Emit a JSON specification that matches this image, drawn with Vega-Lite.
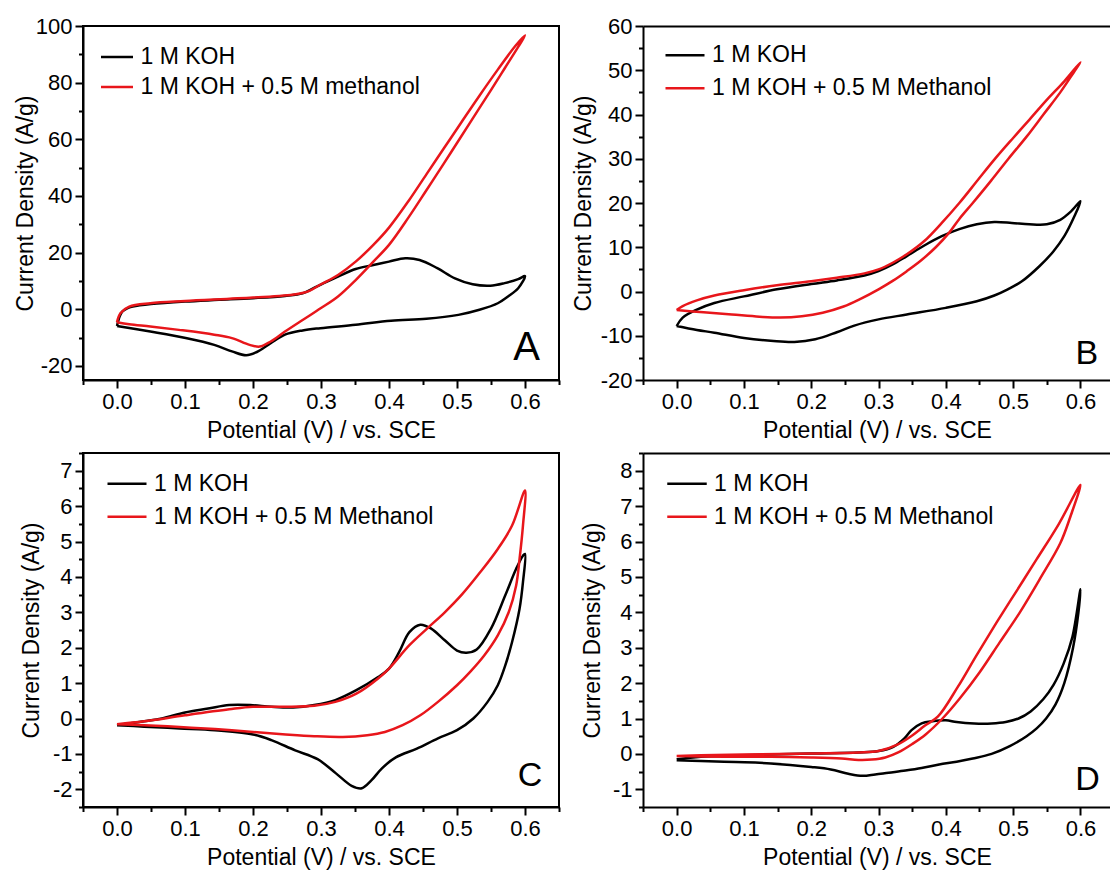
{
  "$schema": "https://vega.github.io/schema/vega-lite/v6.json",
  "background": "white",
  "padding": {"left": 13, "top": 14, "right": 0, "bottom": 0},
  "config": {
    "font": "Liberation Sans",
    "view": {"stroke": "black", "strokeWidth": 2},
    "axis": {
      "grid": false,
      "domainColor": "black",
      "domainWidth": 2,
      "tickColor": "black",
      "tickWidth": 2,
      "labelColor": "black",
      "labelFont": "Liberation Sans",
      "labelFontSize": 22,
      "labelPadding": 3,
      "titleColor": "black",
      "titleFont": "Liberation Sans",
      "titleFontSize": 23,
      "titleFontWeight": "normal",
      "titlePadding": 7
    },
    "legend": {
      "orient": "none",
      "title": null,
      "symbolType": "stroke",
      "symbolStrokeWidth": 2.5,
      "labelFont": "Liberation Sans",
      "labelFontSize": 23,
      "labelColor": "black",
      "labelOffset": 6,
      "labelLimit": 0,
      "padding": 0
    },
    "line": {"strokeWidth": 2.5, "interpolate": "catmull-rom"},
    "text": {"font": "Liberation Sans", "color": "black", "align": "right", "baseline": "alphabetic"}
  },
  "datasets": {
    "A": [
      {"s":"k","o":1,"x":0,"y":-5.9},{"s":"k","o":2,"x":0.004,"y":-2.5},{"s":"k","o":3,"x":0.008,"y":-0.8},{"s":"k","o":4,"x":0.015,"y":0.3},{"s":"k","o":5,"x":0.023,"y":0.9},{"s":"k","o":6,"x":0.05,"y":1.8},{"s":"k","o":7,"x":0.1,"y":2.7},{"s":"k","o":8,"x":0.15,"y":3.3},{"s":"k","o":9,"x":0.2,"y":3.9},{"s":"k","o":10,"x":0.247,"y":4.7},{"s":"k","o":11,"x":0.273,"y":5.6},{"s":"k","o":12,"x":0.289,"y":7.4},{"s":"k","o":13,"x":0.304,"y":9.2},{"s":"k","o":14,"x":0.325,"y":11.5},{"s":"k","o":15,"x":0.351,"y":14.2},{"s":"k","o":16,"x":0.377,"y":15.6},{"s":"k","o":17,"x":0.4,"y":16.8},{"s":"k","o":18,"x":0.424,"y":18},{"s":"k","o":19,"x":0.445,"y":17.4},{"s":"k","o":20,"x":0.471,"y":14.5},{"s":"k","o":21,"x":0.497,"y":10.9},{"s":"k","o":22,"x":0.523,"y":8.8},{"s":"k","o":23,"x":0.549,"y":8.3},{"s":"k","o":24,"x":0.57,"y":9.2},{"s":"k","o":25,"x":0.59,"y":10.6},{"s":"k","o":26,"x":0.6,"y":11.7},
      {"s":"k","o":27,"x":0.59,"y":7.4},{"s":"k","o":28,"x":0.575,"y":4.5},{"s":"k","o":29,"x":0.56,"y":2.1},{"s":"k","o":30,"x":0.533,"y":-0.2},{"s":"k","o":31,"x":0.502,"y":-2},{"s":"k","o":32,"x":0.455,"y":-3.4},{"s":"k","o":33,"x":0.403,"y":-4.1},{"s":"k","o":34,"x":0.351,"y":-5.5},{"s":"k","o":35,"x":0.299,"y":-6.7},{"s":"k","o":36,"x":0.273,"y":-7.5},{"s":"k","o":37,"x":0.247,"y":-9},{"s":"k","o":38,"x":0.226,"y":-12},{"s":"k","o":39,"x":0.205,"y":-15.2},{"s":"k","o":40,"x":0.19,"y":-16.3},{"s":"k","o":41,"x":0.169,"y":-14.9},{"s":"k","o":42,"x":0.143,"y":-12.6},{"s":"k","o":43,"x":0.101,"y":-10.2},{"s":"k","o":44,"x":0.049,"y":-7.9},{"s":"k","o":45,"x":0,"y":-5.9},
      {"s":"m","o":1,"x":0,"y":-4.6},{"s":"m","o":2,"x":0.005,"y":-1.4},{"s":"m","o":3,"x":0.018,"y":0.9},{"s":"m","o":4,"x":0.049,"y":2.1},{"s":"m","o":5,"x":0.1,"y":2.9},{"s":"m","o":6,"x":0.2,"y":4.1},{"s":"m","o":7,"x":0.263,"y":5.3},{"s":"m","o":8,"x":0.283,"y":6.5},{"s":"m","o":9,"x":0.3,"y":8.8},{"s":"m","o":10,"x":0.325,"y":12.1},{"s":"m","o":11,"x":0.351,"y":16.8},{"s":"m","o":12,"x":0.377,"y":22.7},{"s":"m","o":13,"x":0.4,"y":28.8},{"s":"m","o":14,"x":0.429,"y":38.3},{"s":"m","o":15,"x":0.455,"y":47.6},{"s":"m","o":16,"x":0.481,"y":56.9},{"s":"m","o":17,"x":0.507,"y":66.2},{"s":"m","o":18,"x":0.533,"y":75.4},{"s":"m","o":19,"x":0.56,"y":84.6},{"s":"m","o":20,"x":0.586,"y":93},{"s":"m","o":21,"x":0.6,"y":96.7},
      {"s":"m","o":22,"x":0.59,"y":92.6},{"s":"m","o":23,"x":0.57,"y":85},{"s":"m","o":24,"x":0.549,"y":77},{"s":"m","o":25,"x":0.523,"y":67.3},{"s":"m","o":26,"x":0.5,"y":58.7},{"s":"m","o":27,"x":0.481,"y":51.6},{"s":"m","o":28,"x":0.455,"y":42},{"s":"m","o":29,"x":0.429,"y":32.5},{"s":"m","o":30,"x":0.4,"y":22.7},{"s":"m","o":31,"x":0.377,"y":16.8},{"s":"m","o":32,"x":0.351,"y":10.3},{"s":"m","o":33,"x":0.325,"y":4.5},{"s":"m","o":34,"x":0.3,"y":0.4},{"s":"m","o":35,"x":0.273,"y":-3.8},{"s":"m","o":36,"x":0.247,"y":-7.9},{"s":"m","o":37,"x":0.226,"y":-11.4},{"s":"m","o":38,"x":0.21,"y":-13.2},{"s":"m","o":39,"x":0.195,"y":-12.6},{"s":"m","o":40,"x":0.169,"y":-10.2},{"s":"m","o":41,"x":0.143,"y":-9},{"s":"m","o":42,"x":0.091,"y":-7.3},{"s":"m","o":43,"x":0.049,"y":-6.1},{"s":"m","o":44,"x":0.018,"y":-5.3},{"s":"m","o":45,"x":0,"y":-4.6}
    ],
    "B": [
      {"s":"k","o":1,"x":0,"y":-7.8},{"s":"k","o":2,"x":0.009,"y":-5.9},{"s":"k","o":3,"x":0.03,"y":-4.1},{"s":"k","o":4,"x":0.056,"y":-2.6},{"s":"k","o":5,"x":0.1,"y":-1.1},{"s":"k","o":6,"x":0.149,"y":0.5},{"s":"k","o":7,"x":0.2,"y":1.7},{"s":"k","o":8,"x":0.238,"y":2.5},{"s":"k","o":9,"x":0.279,"y":3.6},{"s":"k","o":10,"x":0.3,"y":4.6},{"s":"k","o":11,"x":0.321,"y":6.1},{"s":"k","o":12,"x":0.342,"y":8},{"s":"k","o":13,"x":0.368,"y":10.4},{"s":"k","o":14,"x":0.394,"y":12.5},{"s":"k","o":15,"x":0.42,"y":14.1},{"s":"k","o":16,"x":0.446,"y":15.2},{"s":"k","o":17,"x":0.472,"y":15.7},{"s":"k","o":18,"x":0.498,"y":15.5},{"s":"k","o":19,"x":0.524,"y":15.2},{"s":"k","o":20,"x":0.55,"y":15.2},{"s":"k","o":21,"x":0.57,"y":16.2},{"s":"k","o":22,"x":0.586,"y":18.1},{"s":"k","o":23,"x":0.6,"y":20.4},
      {"s":"k","o":24,"x":0.591,"y":17},{"s":"k","o":25,"x":0.576,"y":12.5},{"s":"k","o":26,"x":0.56,"y":9.1},{"s":"k","o":27,"x":0.539,"y":5.7},{"s":"k","o":28,"x":0.513,"y":2.3},{"s":"k","o":29,"x":0.492,"y":0.5},{"s":"k","o":30,"x":0.472,"y":-0.9},{"s":"k","o":31,"x":0.446,"y":-2.2},{"s":"k","o":32,"x":0.4,"y":-3.7},{"s":"k","o":33,"x":0.342,"y":-5.2},{"s":"k","o":34,"x":0.3,"y":-6.3},{"s":"k","o":35,"x":0.264,"y":-7.7},{"s":"k","o":36,"x":0.238,"y":-9.2},{"s":"k","o":37,"x":0.206,"y":-10.8},{"s":"k","o":38,"x":0.175,"y":-11.4},{"s":"k","o":39,"x":0.144,"y":-11.2},{"s":"k","o":40,"x":0.1,"y":-10.5},{"s":"k","o":41,"x":0.056,"y":-9.3},{"s":"k","o":42,"x":0.03,"y":-8.7},{"s":"k","o":43,"x":0,"y":-7.8},
      {"s":"m","o":1,"x":0,"y":-4.2},{"s":"m","o":2,"x":0.009,"y":-3.3},{"s":"m","o":3,"x":0.03,"y":-2},{"s":"m","o":4,"x":0.056,"y":-0.9},{"s":"m","o":5,"x":0.1,"y":0.3},{"s":"m","o":6,"x":0.149,"y":1.4},{"s":"m","o":7,"x":0.2,"y":2.3},{"s":"m","o":8,"x":0.238,"y":3.1},{"s":"m","o":9,"x":0.279,"y":4.1},{"s":"m","o":10,"x":0.3,"y":5},{"s":"m","o":11,"x":0.321,"y":6.5},{"s":"m","o":12,"x":0.342,"y":8.4},{"s":"m","o":13,"x":0.368,"y":11.4},{"s":"m","o":14,"x":0.394,"y":15.5},{"s":"m","o":15,"x":0.42,"y":20},{"s":"m","o":16,"x":0.446,"y":24.9},{"s":"m","o":17,"x":0.472,"y":29.8},{"s":"m","o":18,"x":0.5,"y":34.7},{"s":"m","o":19,"x":0.524,"y":38.8},{"s":"m","o":20,"x":0.55,"y":43.3},{"s":"m","o":21,"x":0.576,"y":47.5},{"s":"m","o":22,"x":0.6,"y":51.8},
      {"s":"m","o":23,"x":0.59,"y":49.5},{"s":"m","o":24,"x":0.57,"y":45},{"s":"m","o":25,"x":0.545,"y":40},{"s":"m","o":26,"x":0.52,"y":35},{"s":"m","o":27,"x":0.493,"y":30},{"s":"m","o":28,"x":0.467,"y":25},{"s":"m","o":29,"x":0.44,"y":20},{"s":"m","o":30,"x":0.42,"y":16.4},{"s":"m","o":31,"x":0.405,"y":13.3},{"s":"m","o":32,"x":0.385,"y":10},{"s":"m","o":33,"x":0.363,"y":7},{"s":"m","o":34,"x":0.342,"y":4.6},{"s":"m","o":35,"x":0.321,"y":2.4},{"s":"m","o":36,"x":0.3,"y":0.5},{"s":"m","o":37,"x":0.274,"y":-1.6},{"s":"m","o":38,"x":0.248,"y":-3.4},{"s":"m","o":39,"x":0.217,"y":-4.8},{"s":"m","o":40,"x":0.186,"y":-5.6},{"s":"m","o":41,"x":0.154,"y":-5.9},{"s":"m","o":42,"x":0.123,"y":-5.7},{"s":"m","o":43,"x":0.082,"y":-5.2},{"s":"m","o":44,"x":0.04,"y":-4.7},{"s":"m","o":45,"x":0,"y":-4.2}
    ],
    "C": [
      {"s":"k","o":1,"x":0,"y":-0.19},{"s":"k","o":2,"x":0.04,"y":-0.08},{"s":"k","o":3,"x":0.066,"y":0},{"s":"k","o":4,"x":0.1,"y":0.17},{"s":"k","o":5,"x":0.134,"y":0.28},{"s":"k","o":6,"x":0.165,"y":0.38},{"s":"k","o":7,"x":0.196,"y":0.38},{"s":"k","o":8,"x":0.227,"y":0.33},{"s":"k","o":9,"x":0.259,"y":0.31},{"s":"k","o":10,"x":0.29,"y":0.38},{"s":"k","o":11,"x":0.321,"y":0.52},{"s":"k","o":12,"x":0.352,"y":0.8},{"s":"k","o":13,"x":0.384,"y":1.17},{"s":"k","o":14,"x":0.4,"y":1.41},{"s":"k","o":15,"x":0.415,"y":1.88},{"s":"k","o":16,"x":0.43,"y":2.44},{"s":"k","o":17,"x":0.446,"y":2.65},{"s":"k","o":18,"x":0.462,"y":2.54},{"s":"k","o":19,"x":0.482,"y":2.21},{"s":"k","o":20,"x":0.5,"y":1.92},{"s":"k","o":21,"x":0.514,"y":1.86},{"s":"k","o":22,"x":0.529,"y":1.95},{"s":"k","o":23,"x":0.55,"y":2.54},{"s":"k","o":24,"x":0.571,"y":3.48},{"s":"k","o":25,"x":0.587,"y":4.23},{"s":"k","o":26,"x":0.597,"y":4.6},{"s":"k","o":27,"x":0.6,"y":4.65},
      {"s":"k","o":28,"x":0.597,"y":3.85},{"s":"k","o":29,"x":0.592,"y":3.1},{"s":"k","o":30,"x":0.581,"y":2.16},{"s":"k","o":31,"x":0.571,"y":1.5},{"s":"k","o":32,"x":0.56,"y":0.94},{"s":"k","o":33,"x":0.545,"y":0.47},{"s":"k","o":34,"x":0.524,"y":0},{"s":"k","o":35,"x":0.5,"y":-0.33},{"s":"k","o":36,"x":0.472,"y":-0.56},{"s":"k","o":37,"x":0.441,"y":-0.85},{"s":"k","o":38,"x":0.41,"y":-1.1},{"s":"k","o":39,"x":0.39,"y":-1.4},{"s":"k","o":40,"x":0.374,"y":-1.75},{"s":"k","o":41,"x":0.36,"y":-1.97},{"s":"k","o":42,"x":0.345,"y":-1.9},{"s":"k","o":43,"x":0.322,"y":-1.55},{"s":"k","o":44,"x":0.295,"y":-1.15},{"s":"k","o":45,"x":0.262,"y":-0.9},{"s":"k","o":46,"x":0.227,"y":-0.61},{"s":"k","o":47,"x":0.2,"y":-0.45},{"s":"k","o":48,"x":0.144,"y":-0.33},{"s":"k","o":49,"x":0.092,"y":-0.28},{"s":"k","o":50,"x":0.04,"y":-0.23},{"s":"k","o":51,"x":0,"y":-0.19},
      {"s":"m","o":1,"x":0,"y":-0.16},{"s":"m","o":2,"x":0.04,"y":-0.08},{"s":"m","o":3,"x":0.1,"y":0.09},{"s":"m","o":4,"x":0.165,"y":0.26},{"s":"m","o":5,"x":0.2,"y":0.33},{"s":"m","o":6,"x":0.248,"y":0.33},{"s":"m","o":7,"x":0.29,"y":0.36},{"s":"m","o":8,"x":0.321,"y":0.47},{"s":"m","o":9,"x":0.352,"y":0.7},{"s":"m","o":10,"x":0.384,"y":1.13},{"s":"m","o":11,"x":0.4,"y":1.41},{"s":"m","o":12,"x":0.43,"y":2.07},{"s":"m","o":13,"x":0.456,"y":2.54},{"s":"m","o":14,"x":0.482,"y":3.0},{"s":"m","o":15,"x":0.508,"y":3.52},{"s":"m","o":16,"x":0.534,"y":4.13},{"s":"m","o":17,"x":0.56,"y":4.79},{"s":"m","o":18,"x":0.581,"y":5.45},{"s":"m","o":19,"x":0.6,"y":6.44},
      {"s":"m","o":20,"x":0.597,"y":5.45},{"s":"m","o":21,"x":0.592,"y":4.51},{"s":"m","o":22,"x":0.587,"y":3.76},{"s":"m","o":23,"x":0.576,"y":3.0},{"s":"m","o":24,"x":0.56,"y":2.35},{"s":"m","o":25,"x":0.54,"y":1.78},{"s":"m","o":26,"x":0.519,"y":1.31},{"s":"m","o":27,"x":0.5,"y":0.94},{"s":"m","o":28,"x":0.472,"y":0.47},{"s":"m","o":29,"x":0.446,"y":0.09},{"s":"m","o":30,"x":0.42,"y":-0.19},{"s":"m","o":31,"x":0.394,"y":-0.38},{"s":"m","o":32,"x":0.368,"y":-0.47},{"s":"m","o":33,"x":0.332,"y":-0.52},{"s":"m","o":34,"x":0.29,"y":-0.5},{"s":"m","o":35,"x":0.248,"y":-0.45},{"s":"m","o":36,"x":0.2,"y":-0.38},{"s":"m","o":37,"x":0.144,"y":-0.3},{"s":"m","o":38,"x":0.092,"y":-0.24},{"s":"m","o":39,"x":0.04,"y":-0.19},{"s":"m","o":40,"x":0,"y":-0.16}
    ],
    "D": [
      {"s":"k","o":1,"x":0,"y":-0.15},{"s":"k","o":2,"x":0.036,"y":-0.08},{"s":"k","o":3,"x":0.1,"y":-0.04},{"s":"k","o":4,"x":0.2,"y":0.01},{"s":"k","o":5,"x":0.27,"y":0.04},{"s":"k","o":6,"x":0.3,"y":0.08},{"s":"k","o":7,"x":0.322,"y":0.2},{"s":"k","o":8,"x":0.338,"y":0.43},{"s":"k","o":9,"x":0.349,"y":0.67},{"s":"k","o":10,"x":0.364,"y":0.86},{"s":"k","o":11,"x":0.38,"y":0.92},{"s":"k","o":12,"x":0.4,"y":0.95},{"s":"k","o":13,"x":0.416,"y":0.9},{"s":"k","o":14,"x":0.442,"y":0.86},{"s":"k","o":15,"x":0.468,"y":0.86},{"s":"k","o":16,"x":0.489,"y":0.9},{"s":"k","o":17,"x":0.508,"y":1.0},{"s":"k","o":18,"x":0.526,"y":1.2},{"s":"k","o":19,"x":0.545,"y":1.55},{"s":"k","o":20,"x":0.56,"y":1.95},{"s":"k","o":21,"x":0.575,"y":2.55},{"s":"k","o":22,"x":0.588,"y":3.3},{"s":"k","o":23,"x":0.6,"y":4.65},
      {"s":"k","o":24,"x":0.597,"y":4.0},{"s":"k","o":25,"x":0.589,"y":3.0},{"s":"k","o":26,"x":0.576,"y":2.0},{"s":"k","o":27,"x":0.563,"y":1.4},{"s":"k","o":28,"x":0.549,"y":1.0},{"s":"k","o":29,"x":0.535,"y":0.72},{"s":"k","o":30,"x":0.52,"y":0.5},{"s":"k","o":31,"x":0.495,"y":0.22},{"s":"k","o":32,"x":0.468,"y":0},{"s":"k","o":33,"x":0.44,"y":-0.13},{"s":"k","o":34,"x":0.416,"y":-0.22},{"s":"k","o":35,"x":0.39,"y":-0.3},{"s":"k","o":36,"x":0.364,"y":-0.4},{"s":"k","o":37,"x":0.34,"y":-0.47},{"s":"k","o":38,"x":0.315,"y":-0.53},{"s":"k","o":39,"x":0.295,"y":-0.58},{"s":"k","o":40,"x":0.276,"y":-0.62},{"s":"k","o":41,"x":0.255,"y":-0.56},{"s":"k","o":42,"x":0.229,"y":-0.44},{"s":"k","o":43,"x":0.2,"y":-0.37},{"s":"k","o":44,"x":0.14,"y":-0.27},{"s":"k","o":45,"x":0.088,"y":-0.23},{"s":"k","o":46,"x":0.036,"y":-0.2},{"s":"k","o":47,"x":0,"y":-0.18},
      {"s":"m","o":1,"x":0,"y":-0.06},{"s":"m","o":2,"x":0.036,"y":-0.04},{"s":"m","o":3,"x":0.1,"y":-0.02},{"s":"m","o":4,"x":0.2,"y":0.01},{"s":"m","o":5,"x":0.27,"y":0.04},{"s":"m","o":6,"x":0.3,"y":0.08},{"s":"m","o":7,"x":0.328,"y":0.26},{"s":"m","o":8,"x":0.35,"y":0.52},{"s":"m","o":9,"x":0.369,"y":0.8},{"s":"m","o":10,"x":0.388,"y":1.05},{"s":"m","o":11,"x":0.418,"y":1.9},{"s":"m","o":12,"x":0.446,"y":2.8},{"s":"m","o":13,"x":0.475,"y":3.7},{"s":"m","o":14,"x":0.505,"y":4.6},{"s":"m","o":15,"x":0.535,"y":5.5},{"s":"m","o":16,"x":0.568,"y":6.5},{"s":"m","o":17,"x":0.6,"y":7.6},
      {"s":"m","o":18,"x":0.585,"y":6.7},{"s":"m","o":19,"x":0.57,"y":5.95},{"s":"m","o":20,"x":0.54,"y":4.95},{"s":"m","o":21,"x":0.51,"y":4.0},{"s":"m","o":22,"x":0.48,"y":3.15},{"s":"m","o":23,"x":0.45,"y":2.3},{"s":"m","o":24,"x":0.42,"y":1.55},{"s":"m","o":25,"x":0.395,"y":1.0},{"s":"m","o":26,"x":0.37,"y":0.55},{"s":"m","o":27,"x":0.35,"y":0.28},{"s":"m","o":28,"x":0.33,"y":0.05},{"s":"m","o":29,"x":0.31,"y":-0.1},{"s":"m","o":30,"x":0.29,"y":-0.16},{"s":"m","o":31,"x":0.27,"y":-0.17},{"s":"m","o":32,"x":0.245,"y":-0.13},{"s":"m","o":33,"x":0.2,"y":-0.1},{"s":"m","o":34,"x":0.14,"y":-0.08},{"s":"m","o":35,"x":0.088,"y":-0.08},{"s":"m","o":36,"x":0.036,"y":-0.07},{"s":"m","o":37,"x":0,"y":-0.06}
    ]
  },
  "columns": 2,
  "spacing": {"row": 73, "column": 84},
  "bounds": "flush",
  "resolve": {"scale": {"x": "independent", "y": "independent", "color": "independent"}, "legend": {"color": "independent"}},
  "concat": [
    {
      "width": 476, "height": 354,
      "resolve": {"axis": {"x": "independent", "y": "independent"}},
      "layer": [
        {
          "data": {"name": "A"},
          "mark": {"type": "line"},
          "encoding": {
            "x": {"field": "x", "type": "quantitative", "title": "Potential (V) / vs. SCE",
              "scale": {"domain": [-0.05, 0.65], "nice": false, "zero": false},
              "axis": {"values": [-0.05,0,0.05,0.1,0.15,0.2,0.25,0.3,0.35,0.4,0.45,0.5,0.55,0.6,0.65],
                "labelExpr": "abs(datum.value*10 - round(datum.value*10)) < 0.001 ? format(datum.value, '.1f') : ''",
                "tickSize": {"condition": {"test": "abs(datum.value*10 - round(datum.value*10)) < 0.001", "value": 8}, "value": 4.5}}},
            "y": {"field": "y", "type": "quantitative", "title": "Current Density (A/g)",
              "scale": {"domain": [-25, 100], "nice": false, "zero": false},
              "axis": {"values": [-20,-10,0,10,20,30,40,50,60,70,80,90,100],
                "labelExpr": "datum.value % 20 == 0 ? '' + datum.value : ''",
                "tickSize": {"condition": {"test": "datum.value % 20 == 0", "value": 8}, "value": 4.5},
                "titlePadding": -2}},
            "order": {"field": "o", "type": "quantitative"},
            "color": {"field": "s", "type": "nominal",
              "scale": {"domain": ["k", "m"], "range": ["#000000", "#e8161b"]},
              "legend": {"legendX": 16.5, "legendY": 13.5, "symbolSize": 1024, "rowPadding": -2,
                "labelExpr": "datum.label == 'k' ? '1 M KOH' : '1 M KOH + 0.5 M methanol'"}}
          }
        },
        {
          "data": {"values": [{"t": "A", "x": 0.622, "y": -17.8}]},
          "mark": {"type": "text", "fontSize": 40},
          "encoding": {
            "x": {"field": "x", "type": "quantitative", "axis": null},
            "y": {"field": "y", "type": "quantitative", "axis": null},
            "text": {"field": "t"}
          }
        }
      ]
    },
    {
      "width": 468, "height": 354,
      "view": {"stroke": null},
      "resolve": {"axis": {"x": "independent", "y": "independent"}},
      "layer": [
        {
          "data": {"name": "B"},
          "mark": {"type": "line"},
          "encoding": {
            "x": {"field": "x", "type": "quantitative", "title": "Potential (V) / vs. SCE",
              "scale": {"domain": [-0.05, 0.6454], "nice": false, "zero": false},
              "axis": {"values": [-0.05,0,0.05,0.1,0.15,0.2,0.25,0.3,0.35,0.4,0.45,0.5,0.55,0.6],
                "labelExpr": "abs(datum.value*10 - round(datum.value*10)) < 0.001 ? format(datum.value, '.1f') : ''",
                "tickSize": {"condition": {"test": "abs(datum.value*10 - round(datum.value*10)) < 0.001", "value": 8}, "value": 4.5}}},
            "y": {"field": "y", "type": "quantitative", "title": "Current Density (A/g)",
              "scale": {"domain": [-20, 60], "nice": false, "zero": false},
              "axis": {"values": [-20,-15,-10,-5,0,5,10,15,20,25,30,35,40,45,50,55,60],
                "labelExpr": "datum.value % 10 == 0 ? '' + datum.value : ''",
                "tickSize": {"condition": {"test": "datum.value % 10 == 0", "value": 8}, "value": 4.5},
                "titlePadding": 5}},
            "order": {"field": "o", "type": "quantitative"},
            "color": {"field": "s", "type": "nominal",
              "scale": {"domain": ["k", "m"], "range": ["#000000", "#e8161b"]},
              "legend": {"legendX": 21, "legendY": 8.3, "symbolSize": 1521, "rowPadding": -11,
                "labelExpr": "datum.label == 'k' ? '1 M KOH' : '1 M KOH + 0.5 M Methanol'"}}
          }
        },
        {
          "data": {"values": [{"t": "B", "x": 0.6263, "y": -16.4}]},
          "mark": {"type": "text", "fontSize": 34},
          "encoding": {
            "x": {"field": "x", "type": "quantitative",
              "axis": {"orient": "top", "labels": false, "ticks": false, "title": null}},
            "y": {"field": "y", "type": "quantitative", "axis": null},
            "text": {"field": "t"}
          }
        }
      ]
    },
    {
      "width": 476, "height": 354,
      "resolve": {"axis": {"x": "independent", "y": "independent"}},
      "layer": [
        {
          "data": {"name": "C"},
          "mark": {"type": "line"},
          "encoding": {
            "x": {"field": "x", "type": "quantitative", "title": "Potential (V) / vs. SCE",
              "scale": {"domain": [-0.05, 0.65], "nice": false, "zero": false},
              "axis": {"values": [-0.05,0,0.05,0.1,0.15,0.2,0.25,0.3,0.35,0.4,0.45,0.5,0.55,0.6,0.65],
                "labelExpr": "abs(datum.value*10 - round(datum.value*10)) < 0.001 ? format(datum.value, '.1f') : ''",
                "tickSize": {"condition": {"test": "abs(datum.value*10 - round(datum.value*10)) < 0.001", "value": 8}, "value": 4.5}}},
            "y": {"field": "y", "type": "quantitative", "title": "Current Density (A/g)",
              "scale": {"domain": [-2.5, 7.5], "nice": false, "zero": false},
              "axis": {"values": [-2.5,-2,-1.5,-1,-0.5,0,0.5,1,1.5,2,2.5,3,3.5,4,4.5,5,5.5,6,6.5,7,7.5],
                "labelExpr": "datum.value % 1 == 0 ? '' + datum.value : ''",
                "tickSize": {"condition": {"test": "datum.value % 1 == 0", "value": 8}, "value": 4.5},
                "titlePadding": 9}},
            "order": {"field": "o", "type": "quantitative"},
            "color": {"field": "s", "type": "nominal",
              "scale": {"domain": ["k", "m"], "range": ["#000000", "#e8161b"]},
              "legend": {"legendX": 23, "legendY": 9.7, "symbolSize": 1521, "rowPadding": -10,
                "labelExpr": "datum.label == 'k' ? '1 M KOH' : '1 M KOH + 0.5 M Methanol'"}}
          }
        },
        {
          "data": {"values": [{"t": "C", "x": 0.6255, "y": -1.92}]},
          "mark": {"type": "text", "fontSize": 34},
          "encoding": {
            "x": {"field": "x", "type": "quantitative", "axis": null},
            "y": {"field": "y", "type": "quantitative", "axis": null},
            "text": {"field": "t"}
          }
        }
      ]
    },
    {
      "width": 468, "height": 354,
      "view": {"stroke": null},
      "resolve": {"axis": {"x": "independent", "y": "independent"}},
      "layer": [
        {
          "data": {"name": "D"},
          "mark": {"type": "line"},
          "encoding": {
            "x": {"field": "x", "type": "quantitative", "title": "Potential (V) / vs. SCE",
              "scale": {"domain": [-0.05, 0.6454], "nice": false, "zero": false},
              "axis": {"values": [-0.05,0,0.05,0.1,0.15,0.2,0.25,0.3,0.35,0.4,0.45,0.5,0.55,0.6],
                "labelExpr": "abs(datum.value*10 - round(datum.value*10)) < 0.001 ? format(datum.value, '.1f') : ''",
                "tickSize": {"condition": {"test": "abs(datum.value*10 - round(datum.value*10)) < 0.001", "value": 8}, "value": 4.5}}},
            "y": {"field": "y", "type": "quantitative", "title": "Current Density (A/g)",
              "scale": {"domain": [-1.5, 8.5], "nice": false, "zero": false},
              "axis": {"values": [-1.5,-1,-0.5,0,0.5,1,1.5,2,2.5,3,3.5,4,4.5,5,5.5,6,6.5,7,7.5,8,8.5],
                "labelExpr": "datum.value % 1 == 0 ? '' + datum.value : ''",
                "tickSize": {"condition": {"test": "datum.value % 1 == 0", "value": 8}, "value": 4.5},
                "titlePadding": 8}},
            "order": {"field": "o", "type": "quantitative"},
            "color": {"field": "s", "type": "nominal",
              "scale": {"domain": ["k", "m"], "range": ["#000000", "#e8161b"]},
              "legend": {"legendX": 23, "legendY": 9.7, "symbolSize": 1560, "rowPadding": -10.5,
                "labelExpr": "datum.label == 'k' ? '1 M KOH' : '1 M KOH + 0.5 M Methanol'"}}
          }
        },
        {
          "data": {"values": [{"t": "D", "x": 0.6287, "y": -1.02}]},
          "mark": {"type": "text", "fontSize": 34},
          "encoding": {
            "x": {"field": "x", "type": "quantitative",
              "axis": {"orient": "top", "labels": false, "ticks": false, "title": null}},
            "y": {"field": "y", "type": "quantitative", "axis": null},
            "text": {"field": "t"}
          }
        }
      ]
    }
  ]
}
